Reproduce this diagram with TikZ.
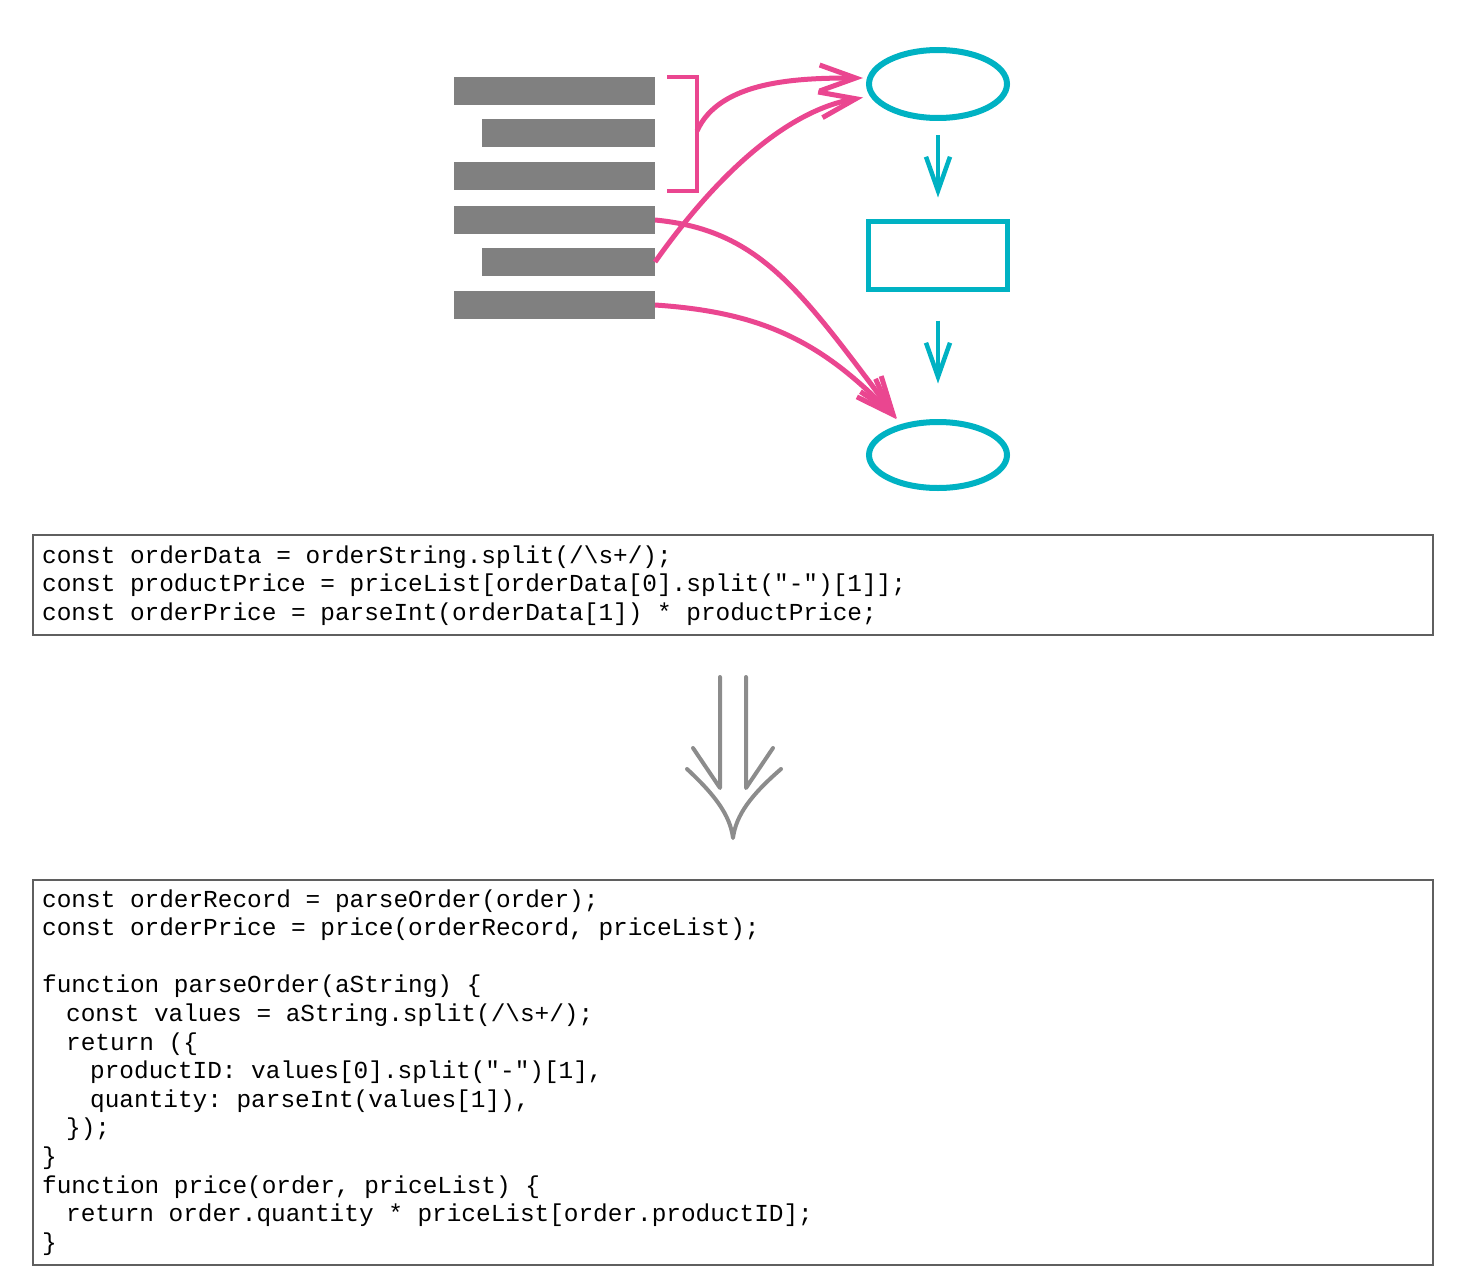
\documentclass[tikz,border=0pt]{standalone}
\usepackage{fontspec}
\setmonofont{Liberation Mono}
\usetikzlibrary{shapes.geometric,arrows.meta}
\definecolor{pinkline}{HTML}{EA4690}
\definecolor{tealline}{HTML}{00B2C3}
\definecolor{bargray}{HTML}{808080}
\definecolor{boxgray}{HTML}{5F5F5F}
\definecolor{arrowgray}{HTML}{8C8C8C}

\begin{document}
\begin{tikzpicture}[x=1pt, y=-1pt,
	bar/.style={fill=bargray, inner sep=0pt, minimum height=28, anchor=east},
	oval/.style={shape=ellipse, draw=tealline, line width=6, inner sep=0pt, minimum width=138},
	flow/.style={draw=tealline, line width=4.5, -{Straight Barb[length=34pt,width=24pt]}},
	link/.style={draw=pinkline, line width=5, -{Straight Barb[length=36pt,width=26pt]}},
	codebox/.style={draw=boxgray, line width=1.5, minimum width=1400, inner sep=0pt},
	code/.style={anchor=base west, align=left, inner sep=0pt, font=\ttfamily\fontsize{24.4}{28.6}\selectfont}]

	\useasboundingbox (0,0) rectangle (1458,1284);

	\node[bar, minimum width=201] (b1) at (655, 91)  {};
	\node[bar, minimum width=173] (b2) at (655, 133.5) {};
	\node[bar, minimum width=201] (b3) at (655, 176.5) {};
	\node[bar, minimum width=201] (b4) at (655, 220) {};
	\node[bar, minimum width=173] (b5) at (655, 262) {};
	\node[bar, minimum width=201] (b6) at (655, 305) {};

	\node[oval, minimum height=68] (in)  at (938, 84)    {};
	\node[draw=tealline, line width=5, inner sep=0pt, minimum width=139, minimum height=68] (calc) at (938, 255.5) {};
	\node[oval, minimum height=66] (out) at (938, 455)   {};

	\coordinate (br) at (697, 131);
	\draw[pinkline, line width=4.5] (667, 77) -- (697, 77) -- (697, 191) -- (667, 191);

	\path[flow, shorten <=14.5pt, shorten >=21.5pt] (in) -- (calc);
	\path[flow, shorten <=28.5pt, shorten >=35.5pt] (calc) -- (out);

	\path[link, shorten >=3pt] (br) .. controls (720, 80) and (800, 78) .. ([yshift=6]in.west);
	\path[link, shorten >=3pt] (b5.east) .. controls (720, 170) and (790, 110) .. ([yshift=-13]in.west);
	\path[link, shorten >=7pt] (b4.east) .. controls (760, 230) and (800, 290) .. (out.140);
	\path[link, shorten >=7pt] (b6.east) .. controls (760, 312) and (820, 340) .. (out.140);

	\node[codebox, minimum height=100] (oldbox) at (733, 585) {};
	\node[code] (oldcode) at (42, 620.2) {const orderData = orderString.split(/\textbackslash s+/);\\
const productPrice = priceList[orderData[0].split("-")[1]];\\
const orderPrice = parseInt(orderData[1]) * productPrice;};

	\coordinate (l1) at (720, 677);
	\coordinate (l2) at (746, 677);
	\coordinate (tip) at (733, 838);
	\draw[arrowgray, line width=4, line cap=round, line join=round] (l1) -- (720, 788) -- (693, 748);
	\draw[arrowgray, line width=4, line cap=round, line join=round] (l2) -- (746, 788) -- (773, 748);
	\draw[arrowgray, line width=4, line cap=round, line join=round] (687, 769) .. controls (715, 795) and (730, 815) .. (tip)
		.. controls (736, 815) and (751, 795) .. (781, 769);

	\node[codebox, minimum height=385] (newbox) at (733, 1072.5) {};
	\node[code] (newcode) at (42, 1250.2) {const orderRecord = parseOrder(order);\\
const orderPrice = price(orderRecord, priceList);\\[28.6pt]
function parseOrder(aString) \{\\
\hspace*{24pt}const values = aString.split(/\textbackslash s+/);\\
\hspace*{24pt}return (\{\\
\hspace*{48pt}productID: values[0].split("-")[1],\\
\hspace*{48pt}quantity: parseInt(values[1]),\\
\hspace*{24pt}\});\\
\}\\
function price(order, priceList) \{\\
\hspace*{24pt}return order.quantity * priceList[order.productID];\\
\}};

\end{tikzpicture}
\end{document}
